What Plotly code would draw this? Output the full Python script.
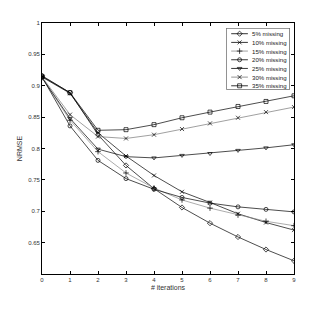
import plotly.graph_objects as go

iterations = [0, 1, 2, 3, 4, 5, 6, 7, 8, 9]
series_names = ["5% missing", "10% missing", "15% missing", "20% missing",
                "25% missing", "30% missing", "35% missing"]
m5 = [0.916, 0.889, 0.822, 0.773, 0.736, 0.706, 0.681, 0.659, 0.639, 0.621]
m10 = [0.914, 0.888, 0.825, 0.788, 0.757, 0.731, 0.714, 0.696, 0.682, 0.670]
m15 = [0.913, 0.845, 0.795, 0.761, 0.737, 0.718, 0.705, 0.694, 0.684, 0.677]
m20 = [0.914, 0.836, 0.781, 0.752, 0.735, 0.722, 0.713, 0.707, 0.703, 0.699]
m25 = [0.913, 0.848, 0.799, 0.787, 0.785, 0.789, 0.792, 0.797, 0.801, 0.806]
m30 = [0.914, 0.854, 0.819, 0.816, 0.822, 0.831, 0.840, 0.849, 0.858, 0.866]
m35 = [0.915, 0.889, 0.829, 0.830, 0.838, 0.849, 0.858, 0.867, 0.875, 0.884]
values = [m5, m10, m15, m20, m25, m30, m35]
y_ticks = [0.65, 0.7, 0.75, 0.8, 0.85, 0.9, 0.95, 1]
y_tick_labels = ["0.65", "0.7", "0.75", "0.8", "0.85", "0.9", "0.95", "1"]

symbols = ["diamond-open", "x-thin-open", "cross-thin-open", "circle-open",
           "triangle-down-open", "x-thin-open", "square-open"]
colors = ["#000000", "#000000", "#888888", "#000000", "#000000", "#777777", "#000000"]

FONT = "Liberation Sans, Arial, sans-serif"
fig = go.Figure()
for name, v, s, c in zip(series_names, values, symbols, colors):
    fig.add_trace(go.Scatter(
        x=iterations, y=v, mode="lines+markers", name=name, showlegend=False,
        line=dict(color=c, width=0.7),
        marker=dict(symbol=s, size=4, color="#000000",
                    line=dict(color="#000000", width=0.7)),
    ))

# manual legend in an overlay axis measured in pixels
LW, LH = 63.3, 61.7
for i, (name, s, c) in enumerate(zip(series_names, symbols, colors)):
    yy = LH - 5.7 - i * 8.67
    fig.add_trace(go.Scatter(
        x=[4.8, 21.5], y=[yy, yy], mode="lines", xaxis="x2", yaxis="y2",
        showlegend=False, hoverinfo="skip", line=dict(color=c, width=0.8)))
    fig.add_trace(go.Scatter(
        x=[13.2], y=[yy], mode="markers", xaxis="x2", yaxis="y2",
        showlegend=False, hoverinfo="skip",
        marker=dict(symbol=s, size=4, color="#000000",
                    line=dict(color="#000000", width=0.7))))
    fig.add_annotation(x=24, y=yy, xref="x2", yref="y2", text=name,
                       showarrow=False, xanchor="left", yanchor="middle",
                       font=dict(size=6.1, color="#222222", family=FONT))

fig.add_shape(type="rect", xref="x2", yref="y2", x0=0, x1=LW, y0=0, y1=LH,
              line=dict(color="#000000", width=0.8), fillcolor="rgba(0,0,0,0)")

# page body has an 8px margin; compensate
OFF = 8
PL, PR, PT, PB = 42.3, 294.3, 23.3, 274.0
W, H = 327 - OFF, 309 - OFF
pw, ph = PR - PL, PB - PT
lx0 = (226.7 - PL) / pw
lx1 = (226.7 + LW - PL) / pw
ly1 = (PB - 28.3) / ph
ly0 = (PB - 28.3 - LH) / ph

axis_font = dict(size=6, color="#333333", family=FONT)
title_font = dict(size=7, color="#333333", family=FONT)
fig.update_layout(
    width=W, height=H,
    margin=dict(l=PL - OFF, r=W - (PR - OFF), t=PT - OFF, b=H - (PB - OFF), pad=0),
    paper_bgcolor="white", plot_bgcolor="white",
    xaxis=dict(range=[0, 9], tickvals=iterations, ticks="inside", ticklen=3,
               tickcolor="#000", showgrid=False, zeroline=False, showline=True,
               linecolor="#000", linewidth=0.8, mirror="ticks",
               tickfont=axis_font,
               title=dict(text="# iterations", standoff=3, font=title_font)),
    yaxis=dict(range=[0.6, 1.0], tickvals=y_ticks, ticktext=y_tick_labels,
               ticks="inside", ticklen=3, tickcolor="#000", showgrid=False,
               zeroline=False, showline=True, linecolor="#000", linewidth=0.8,
               mirror="ticks", tickfont=axis_font,
               title=dict(text="NRMSE", standoff=4, font=title_font)),
    xaxis2=dict(domain=[lx0, lx1], range=[0, LW], visible=False, fixedrange=True,
                anchor="y2"),
    yaxis2=dict(domain=[ly0, ly1], range=[0, LH], visible=False, fixedrange=True,
                anchor="x2"),
)
fig.write_html("out.html")
